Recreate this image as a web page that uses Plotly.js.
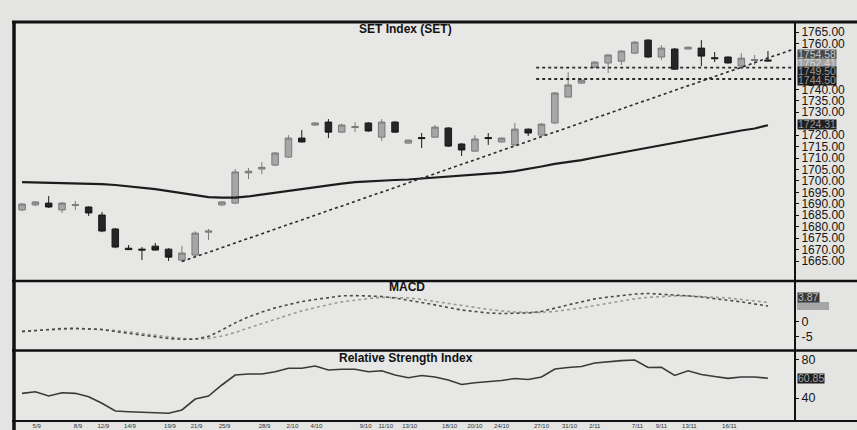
<!DOCTYPE html>
<html>
<head>
<meta charset="utf-8">
<script src="https://cdn.plot.ly/plotly-3.0.1.min.js"></script>
<style>
html,body{margin:0;padding:0;background:#e4e4e2;}
#chart{width:857px;height:430px;}
</style>
</head>
<body>
<div id="chart"></div>
<script>
// ---- data ----
const openP  = [1687.3,1689.5,1690.3,1687.3,1689.3,1688.6,1685.1,1679.0,1670.6,1670.2,1671.5,1670.2,1665.4,1667.6,1677.6,1689.5,1690.3,1703.5,1705.2,1706.9,1710.4,1718.7,1724.4,1725.7,1721.3,1723.3,1725.3,1719.1,1725.7,1716.5,1718.9,1719.1,1723.1,1716.1,1713.0,1718.9,1717.0,1715.7,1722.6,1720.0,1725.3,1736.6,1742.7,1749.7,1751.5,1752.3,1755.8,1761.5,1754.1,1757.6,1757.6,1758.0,1753.8,1754.1,1750.2,1752.6,1752.8];
const highP  = [1690.3,1691.2,1693.4,1690.8,1691.2,1688.9,1686.4,1679.4,1672.0,1671.1,1672.9,1670.6,1671.6,1678.0,1679.0,1691.2,1705.2,1705.6,1708.2,1712.6,1720.0,1722.2,1725.6,1727.0,1725.0,1725.7,1725.7,1727.0,1726.0,1718.0,1720.9,1724.4,1723.5,1716.5,1720.0,1720.9,1719.0,1725.3,1722.9,1725.3,1738.8,1747.5,1744.4,1752.3,1755.4,1757.1,1761.0,1761.9,1759.3,1758.0,1758.6,1761.5,1756.3,1754.3,1755.8,1755.0,1756.7];
const lowP   = [1686.8,1689.0,1688.2,1686.0,1687.3,1684.7,1677.6,1670.6,1669.8,1665.4,1669.6,1665.0,1664.6,1667.0,1674.2,1689.2,1689.9,1700.8,1703.0,1706.5,1710.0,1716.8,1724.2,1718.7,1720.9,1721.3,1721.5,1717.4,1721.0,1716.3,1714.3,1718.9,1714.8,1710.9,1712.8,1715.7,1716.8,1715.5,1719.6,1719.8,1725.0,1736.4,1742.5,1749.3,1747.1,1750.6,1755.4,1753.8,1752.8,1748.6,1757.4,1750.2,1751.9,1751.3,1750.0,1750.6,1752.2];
const closeP = [1689.9,1690.8,1688.6,1690.3,1689.6,1686.0,1678.1,1671.1,1670.0,1669.8,1669.8,1666.7,1668.5,1677.2,1678.1,1690.8,1703.9,1704.2,1705.9,1712.2,1718.7,1717.0,1725.3,1721.3,1724.4,1723.7,1721.8,1725.7,1721.3,1717.8,1718.5,1723.5,1715.2,1713.5,1718.3,1718.5,1718.7,1722.6,1720.9,1724.8,1738.4,1741.9,1744.0,1751.9,1755.0,1756.7,1760.6,1754.1,1758.0,1748.8,1758.4,1754.5,1753.4,1751.5,1753.6,1753.0,1752.41];
const movingAvg = [1699.5,1699.4,1699.2,1699.1,1698.9,1698.8,1698.6,1698.2,1697.7,1697.1,1696.4,1695.5,1694.7,1693.6,1692.9,1692.7,1692.7,1693.2,1694.0,1694.9,1695.8,1696.7,1697.5,1698.2,1698.8,1699.5,1699.9,1700.2,1700.4,1700.6,1701.0,1701.5,1701.9,1702.3,1702.8,1703.2,1703.6,1704.3,1705.2,1706.3,1707.4,1708.2,1709.1,1710.2,1711.3,1712.4,1713.5,1714.6,1715.7,1716.7,1717.8,1718.9,1720.0,1721.1,1722.0,1722.9,1724.31];
const trendX = [13, 58.9];
const trendY = [1664.8, 1757.5];
const supportX = [39.6, 59.03];
const supportLevels = [1749.5, 1744.5];
const macdLine = [-3.2,-2.8,-2.5,-2.2,-2.1,-2.2,-2.5,-3.2,-3.8,-4.5,-5.0,-5.5,-5.8,-5.7,-4.8,-2.7,-0.3,1.7,3.3,4.7,5.8,6.8,7.5,8.2,8.7,8.8,8.7,8.5,8.0,7.3,6.5,5.7,4.8,4.0,3.5,3.0,2.8,2.8,3.0,3.5,4.7,5.7,6.7,7.7,8.3,8.8,9.3,9.5,9.3,9.0,8.7,8.3,7.8,7.3,6.7,6.0,5.3];
const signalLine = [-3.0,-2.8,-2.7,-2.5,-2.3,-2.3,-2.5,-2.8,-3.3,-3.8,-4.5,-5.0,-5.5,-5.7,-5.5,-4.7,-3.5,-2.0,-0.5,1.0,2.3,3.7,4.8,5.8,6.7,7.3,7.8,8.2,8.2,8.0,7.5,6.8,6.2,5.5,4.8,4.2,3.7,3.3,3.2,3.2,3.5,4.0,4.7,5.5,6.3,7.0,7.7,8.2,8.5,8.7,8.7,8.5,8.3,8.0,7.5,7.0,6.5];
const rsi = [44.9,46.6,42.1,45.6,44.9,41.4,34.4,26.3,25.6,25.3,24.5,23.9,27.4,38.9,42.1,53.7,64.2,65.3,65.3,67.7,71.3,71.3,73.7,69.5,70.2,70.2,67.7,68.7,64.2,61.4,63.7,62.1,58.9,54.2,56.1,57.2,58.4,60.5,59.5,62.1,70.5,72.1,73.2,76.8,78.4,79.3,80.0,72.1,72.3,63.7,68.7,64.7,62.6,60.7,62.1,62.1,60.85];
const priceTicks = [1665,1670,1675,1680,1685,1690,1695,1700,1705,1710,1715,1720,1730,1735,1740,1760,1765];
const priceTickText = priceTicks.map(v => v.toFixed(2));
const macdTicks = [0, -5];
const rsiTicks = [40, 80];
const dateTickPos = [2.1,5.2,7.1,9.1,12.1,14.1,16.2,19.2,21.3,23.1,26.8,28.3,30.1,33.1,35,37,40,42.1,44,47.2,49,51.1,54.1];
const dateTickText = ['5/9','8/9','12/9','14/9','19/9','21/9','25/9','28/9','2/10','4/10','9/10','11/10','13/10','18/10','20/10','24/10','27/10','31/10','2/11','7/11','9/11','13/11','16/11'];
const titleMain = 'SET Index (SET)';
const titleMacd = 'MACD';
const titleRsi = 'Relative Strength Index';

const days = closeP.map((_, i) => i + 1);
const FONT = 'Liberation Sans, Arial, sans-serif';

const traces = [
  {type:'candlestick', x:days, open:openP, high:highP, low:lowP, close:closeP,
   increasing:{fillcolor:'#a6a6a6', line:{color:'#7a7a7a', width:1}},
   decreasing:{fillcolor:'#262626', line:{color:'#1a1a1a', width:1}},
   xaxis:'x', yaxis:'y', showlegend:false, hoverinfo:'skip'},
  {type:'scatter', mode:'lines', x:days, y:movingAvg, line:{color:'#1c1c1c', width:2.2}, xaxis:'x', yaxis:'y', showlegend:false},
  {type:'scatter', mode:'lines', x:trendX, y:trendY, line:{color:'#2a2a2a', width:1.6, dash:'dot'}, xaxis:'x', yaxis:'y', showlegend:false},
  {type:'scatter', mode:'lines', x:supportX, y:[supportLevels[0], supportLevels[0]], line:{color:'#2a2a2a', width:1.8, dash:'dot'}, xaxis:'x', yaxis:'y', showlegend:false},
  {type:'scatter', mode:'lines', x:supportX, y:[supportLevels[1], supportLevels[1]], line:{color:'#2a2a2a', width:1.8, dash:'dot'}, xaxis:'x', yaxis:'y', showlegend:false},
  {type:'scatter', mode:'lines', x:days, y:signalLine, line:{color:'#9a9a9a', width:1.6, dash:'dot'}, xaxis:'x', yaxis:'y2', showlegend:false},
  {type:'scatter', mode:'lines', x:days, y:macdLine, line:{color:'#4a4a4a', width:1.6, dash:'dot'}, xaxis:'x', yaxis:'y2', showlegend:false},
  {type:'scatter', mode:'lines', x:days, y:rsi, line:{color:'#3a3a3a', width:1.6}, xaxis:'x', yaxis:'y3', showlegend:false}
];

// pixel -> paper helpers for layout decorations
const px = v => (v - 15) / 780;
const py = v => (421 - v) / 399;

function boxLabel(text, yPix, bg, fg) {
  return {xref:'paper', yref:'paper', x:1, y:py(yPix), xanchor:'left', yanchor:'middle', xshift:2,
          text:text, showarrow:false, bgcolor:bg, borderpad:0, height:8.5,
          font:{family:FONT, size:10.5, color:fg}};
}
function title(text, xPix, yPix) {
  return {xref:'paper', yref:'paper', x:px(xPix), y:py(yPix), xanchor:'center', yanchor:'middle',
          text:'<b>'+text+'</b>', showarrow:false, font:{family:FONT, size:12, color:'#111'}};
}

const lineShape = (x0,y0,x1,y1,w) => ({type:'line', xref:'paper', yref:'paper', x0:x0, y0:y0, x1:x1, y1:y1, line:{color:'#111', width:w}});

const layout = {
  width:857, height:430,
  margin:{l:15, r:62, t:22, b:9},
  paper_bgcolor:'#e4e4e2', plot_bgcolor:'#e7e7e5',
  font:{family:FONT, color:'#111'},
  showlegend:false,
  xaxis:{domain:[0,1], range:[0.47,59.03], anchor:'y3', rangeslider:{visible:false},
         showgrid:false, zeroline:false, showline:false,
         tickmode:'array', tickvals:dateTickPos, ticktext:dateTickText,
         tickfont:{size:6, color:'#333'}, ticks:'', ticklabelstandoff:0},
  yaxis:{domain:[0.351,1], range:[1656.3,1769.4], side:'right', anchor:'x',
         showgrid:false, zeroline:false, showline:false,
         tickmode:'array', tickvals:priceTicks, ticktext:priceTickText,
         ticks:'outside', ticklen:3, tickcolor:'#111',
         tickfont:{family:FONT, size:12, color:'#151515'}},
  yaxis2:{domain:[0.178,0.351], range:[-9.33,13.67], side:'right', anchor:'x',
         showgrid:false, zeroline:false, showline:false,
         tickmode:'array', tickvals:macdTicks, ticktext:macdTicks.map(String),
         ticks:'outside', ticklen:3, tickcolor:'#111',
         tickfont:{family:FONT, size:12.5, color:'#151515'}},
  yaxis3:{domain:[0,0.176], range:[15.8,89.7], side:'right', anchor:'x',
         showgrid:false, zeroline:false, showline:false,
         tickmode:'array', tickvals:rsiTicks, ticktext:rsiTicks.map(String),
         ticks:'outside', ticklen:3, tickcolor:'#111',
         tickfont:{family:FONT, size:12.5, color:'#151515'}},
  annotations:[
    title(titleMain, 405, 29),
    title(titleMacd, 407, 287),
    title(titleRsi, 406, 358),
    boxLabel('1754.58', 54.5, '#4a4a4a', '#c8c8c8'),
    boxLabel('1752.41', 63.2, '#a2a2a2', '#d6d6d6'),
    boxLabel('1749.50', 71.9, '#1e1e1e', '#9a9a9a'),
    boxLabel('1744.50', 80.6, '#1e1e1e', '#9a9a9a'),
    boxLabel(movingAvg[movingAvg.length-1].toFixed(2), 124.5, '#1e1e1e', '#9a9a9a'),
    boxLabel('3.87', 297, '#3a3a3a', '#bdbdbd'),
    boxLabel(rsi[rsi.length-1].toFixed(2), 378, '#1e1e1e', '#a8a8a8')
  ],
  shapes:[
    {type:'rect', xref:'paper', yref:'paper', x0:px(797), x1:px(829), y0:py(310), y1:py(302), fillcolor:'#a6a6a6', line:{width:0}},
    lineShape(px(12), 1, 1.0795, 1, 3),
    lineShape(px(14), py(430), px(14), 1, 3.5),
    lineShape(px(12), 0.351, 1.0795, 0.351, 2.5),
    lineShape(px(12), 0.177, 1.0795, 0.177, 2.5),
    lineShape(px(12), 0, 1.0795, 0, 2),
    lineShape(1, 0, 1, 1, 2)
  ]
};

Plotly.newPlot('chart', traces, layout, {displayModeBar:false, staticPlot:true});
</script>
</body>
</html>
